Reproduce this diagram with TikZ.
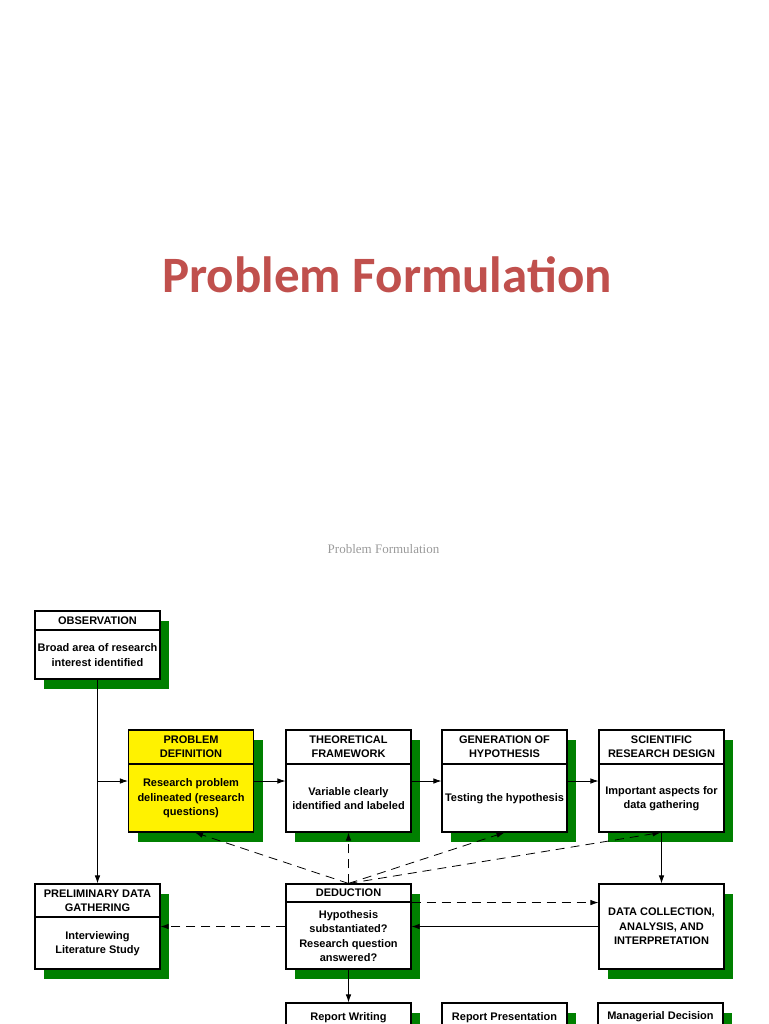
\documentclass[tikz,border=0pt]{standalone}
\usepackage{fontspec}
\newfontfamily\boxfont{Liberation Sans}
\newfontfamily\titlefont{Carlito}
\newfontfamily\capfont{Liberation Serif}
\definecolor{titlered}{HTML}{C0504D}
\definecolor{shadowgreen}{HTML}{008000}
\definecolor{capgray}{HTML}{9A9A9A}
\usepackage{tikz}
\usetikzlibrary{positioning, calc, shadows, arrows.meta}
\tikzset{
	frame/.style={draw, line width=1.1pt, fill=white, minimum width=125pt, inner sep=0pt,
			drop shadow={shadow xshift=9pt, shadow yshift=-10pt, fill=shadowgreen, opacity=1}}
}
\tikzset{
	headbox/.style={draw, line width=1.1pt, minimum width=125pt, inner sep=0pt, anchor=north,
			align=center, font=\boxfont\bfseries\fontsize{11}{14}\selectfont}
}
\tikzset{
	bodytext/.style={align=center, inner sep=0pt, font=\boxfont\bfseries\fontsize{11}{14.5}\selectfont}
}
\tikzset{
	flow/.style={-{Latex[length=8pt,width=5.5pt]}, line width=0.8pt},
	backflow/.style={flow, dash pattern=on 9pt off 6pt}
}

\begin{document}
\begin{tikzpicture}[x=1pt, y=-1pt]

	\useasboundingbox (0,0) rectangle (768,1024);
	\clip (0,0) rectangle (768,1024);

	\node[font=\titlefont\bfseries\fontsize{51}{60}\selectfont, text=titlered, anchor=base] (title) at (387,292) {Problem Formulation};
	\node[font=\capfont\fontsize{13}{15}\selectfont, text=capgray, anchor=base] (caption) at (383.5,553) {Problem Formulation};

	\begin{scope}
		\node[frame, minimum height=68pt] (obs) at (97.5,645) {};
		\node[headbox, minimum height=19pt] (obs-h) at (obs.north) {OBSERVATION};
		\node[bodytext] (obs-t) at ($(obs-h.south)!0.5!(obs.south)$) {Broad area of research\\interest identified};

		\node[frame, fill=yellow, minimum height=102pt] (pd) at (191,781) {};
		\node[headbox, minimum height=34pt] (pd-h) at (pd.north) {PROBLEM\\DEFINITION};
		\node[bodytext] (pd-t) at ($(pd-h.south)!0.5!(pd.south)$) {Research problem\\delineated (research\\questions)};

		\node[frame, minimum height=102pt] (tf) at (348.5,781) {};
		\node[headbox, minimum height=34pt] (tf-h) at (tf.north) {THEORETICAL\\FRAMEWORK};
		\node[bodytext] (tf-t) at ($(tf-h.south)!0.5!(tf.south)$) {Variable clearly\\identified and labeled};

		\node[frame, minimum height=102pt] (gh) at (504.5,781) {};
		\node[headbox, minimum height=34pt] (gh-h) at (gh.north) {GENERATION OF\\HYPOTHESIS};
		\node[bodytext] (gh-t) at ($(gh-h.south)!0.5!(gh.south)$) {Testing the hypothesis};

		\node[frame, minimum height=102pt] (srd) at (661.5,781) {};
		\node[headbox, minimum height=34pt] (srd-h) at (srd.north) {SCIENTIFIC\\RESEARCH DESIGN};
		\node[bodytext] (srd-t) at ($(srd-h.south)!0.5!(srd.south)$) {Important aspects for\\data gathering};
	\end{scope}

	\begin{scope}
		\node[frame, minimum height=85pt] (pdg) at (97.5,926.5) {};
		\node[headbox, minimum height=33pt] (pdg-h) at (pdg.north) {PRELIMINARY DATA\\GATHERING};
		\node[bodytext] (pdg-t) at ($(pdg-h.south)!0.5!(pdg.south)$) {Interviewing\\Literature Study};

		\node[frame, minimum height=85pt] (ded) at (348.5,926.5) {};
		\node[headbox, minimum height=18pt] (ded-h) at (ded.north) {DEDUCTION};
		\node[bodytext] (ded-t) at ($(ded-h.south)!0.5!(ded.south)$) {Hypothesis\\substantiated?\\Research question\\answered?};

		\node[frame, minimum height=85pt, bodytext] (dca) at (661.5,926.5) {DATA COLLECTION,\\ANALYSIS, AND\\INTERPRETATION};
	\end{scope}

	\begin{scope}
		\node[frame, minimum height=60pt] (rw) at (348.5,1033) {};
		\node[bodytext, anchor=base] (rw-t) at ([yshift=-18pt]rw.north) {Report Writing};

		\node[frame, minimum height=60pt] (rp) at (504.5,1033) {};
		\node[bodytext, anchor=base] (rp-t) at ([yshift=-18pt]rp.north) {Report Presentation};

		\node[frame, minimum height=60pt] (md) at (660.5,1033) {};
		\node[bodytext, anchor=base] (md-t) at ([yshift=-17pt]md.north) {Managerial Decision};
	\end{scope}

	\draw[flow] (obs.south) -- (pdg-h.north);
	\draw[flow] (obs.south |- pd.west) -- (pd.west);
	\draw[flow] (pd.east) -- (tf.west);
	\draw[flow] (tf.east) -- (gh.west);
	\draw[flow] (gh.east) -- (srd.west);
	\draw[flow] (srd.south) -- (dca.north);
	\draw[flow] (dca.west) -- (ded.east);
	\draw[flow] (ded.south) -- (rw.north);

	\draw[backflow] (ded.north) -- ([xshift=4pt]pd.south);
	\draw[backflow] (ded.north) -- (tf.south);
	\draw[backflow] (ded.north) -- (gh.south);
	\draw[backflow] (ded.north) -- ([xshift=-1pt]srd.south);
	\draw[backflow] (ded.west) -- (pdg.east);
	\draw[backflow] (ded-h.south east) -- (ded-h.south east -| dca.west);

\end{tikzpicture}
\end{document}
